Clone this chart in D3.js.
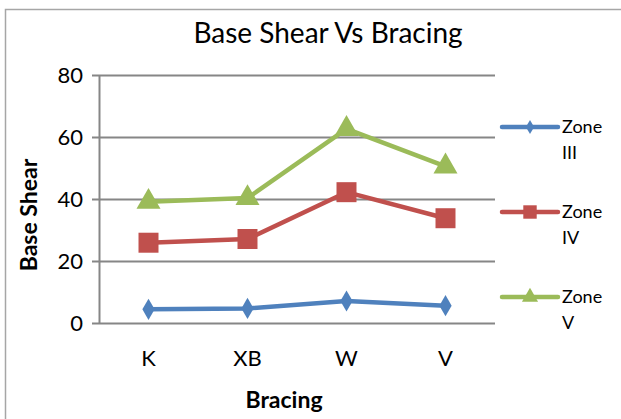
<!DOCTYPE html>
<html lang="en">
  <head>
    <meta charset="utf-8">
    <title>Base Shear Vs Bracing</title>
    <script src="https://d3js.org/d3.v7.js"></script>
    <style>
      body {margin: 0; background: white;}
      text {font-family: Lato, "Open Sans", sans-serif; fill: black;}
    </style>
  </head>
  <body>
  <script>

  // data
  var bracing = ["K", "XB", "W", "V"];
  var zoneIII = [4.4, 4.7, 7.1, 5.6];
  var zoneIV = [25.9, 27.1, 42.2, 33.8];
  var zoneV = [39.1, 40.3, 62.6, 50.5];
  var yTicks = [0, 20, 40, 60, 80];

  var series = [
    {name: ["Zone", "III"], values: zoneIII, color: "#4F81BD", shape: d3.symbolDiamond, size: 130},
    {name: ["Zone", "IV"], values: zoneIV, color: "#C0504D", shape: d3.symbolSquare, size: 400},
    {name: ["Zone", "V"], values: zoneV, color: "#9BBB59", shape: d3.symbolTriangle, size: 250}
  ];

  var w = 621;
  var h = 419;
  var margin = {top: 75, right: 126, bottom: 96, left: 99};

  var svg = d3.select("body")
    .append("svg")
      .attr("width", w)
      .attr("height", h);

  // chart border
  svg.append("rect")
    .attr("x", 5.5)
    .attr("y", 9.5)
    .attr("width", w + 20)
    .attr("height", h + 20)
    .attr("fill", "none")
    .attr("stroke", "#a6a6a6")
    .attr("stroke-width", 1.5);

  var xScale = d3.scalePoint()
    .domain(bracing)
    .range([margin.left, w - margin.right])
    .padding(0.5);

  var yScale = d3.scaleLinear()
    .domain([0, 80])
    .range([h - margin.bottom, margin.top]);

  //gridlines + y axis
  var yAxis = d3.axisLeft(yScale)
    .tickValues(yTicks)
    .tickSize(-(w - margin.right - margin.left))
    .tickSizeOuter(0)
    .tickPadding(16);
  var gy = svg.append("g")
    .attr("transform", `translate(${margin.left}, 0)`)
    .call(yAxis);
  gy.select(".domain").attr("stroke", "#868686").attr("stroke-width", 2);
  gy.selectAll(".tick line").attr("stroke", "#868686").attr("stroke-width", 2).attr("x1", -7);
  gy.selectAll(".tick text").style("font-size", "22px").attr("fill", "black").attr("dy", "0.36em");

  // x labels
  svg.selectAll(".x-label")
    .data(bracing)
    .join("text")
    .attr("class", "x-label")
    .attr("x", d => xScale(d))
    .attr("y", 366)
    .attr("text-anchor", "middle")
    .style("font-size", "22px")
    .text(d => d);

  // lines
  var line = d3.line()
    .x((d, i) => xScale(bracing[i]))
    .y(d => yScale(d));

  series.forEach(function(s) {
    svg.append("path")
      .datum(s.values)
      .attr("d", line)
      .attr("fill", "none")
      .attr("stroke", s.color)
      .attr("stroke-width", 4.5)
      .attr("stroke-linejoin", "round");

    svg.selectAll(null)
      .data(s.values)
      .join("path")
      .attr("transform", (d, i) => `translate(${xScale(bracing[i])}, ${yScale(d)})`)
      .attr("d", d3.symbol().type(s.shape).size(s.size))
      .attr("fill", s.color);
  });

  // legend
  var legend = svg.selectAll(".legend")
    .data(series)
    .join("g")
    .attr("class", "legend")
    .attr("transform", (d, i) => `translate(502, ${127 + i * 85})`);

  legend.append("line")
    .attr("x1", 0).attr("x2", 56)
    .attr("stroke", d => d.color)
    .attr("stroke-width", 4.5)
    .attr("stroke-linecap", "round");

  legend.append("path")
    .attr("transform", "translate(28, 0)")
    .attr("d", d => d3.symbol().type(d.shape).size(d.size * 0.45)())
    .attr("fill", d => d.color);

  legend.append("text")
    .attr("x", 60)
    .attr("y", 6)
    .style("font-size", "18px")
    .text(d => d.name[0]);

  legend.append("text")
    .attr("x", 60)
    .attr("y", 32)
    .style("font-size", "18px")
    .text(d => d.name[1]);

  // titles
  svg.append("text")
    .attr("x", 328)
    .attr("y", 43)
    .attr("text-anchor", "middle")
    .style("font-size", "28px")
    .text("Base Shear Vs Bracing");

  svg.append("text")
    .attr("x", 284)
    .attr("y", 408)
    .attr("text-anchor", "middle")
    .style("font-size", "23px")
    .style("font-weight", "bold")
    .text("Bracing");

  svg.append("text")
    .attr("transform", "translate(37, 215) rotate(-90)")
    .attr("text-anchor", "middle")
    .style("font-size", "23px")
    .style("font-weight", "bold")
    .text("Base Shear");

  </script>
  </body>
</html>
